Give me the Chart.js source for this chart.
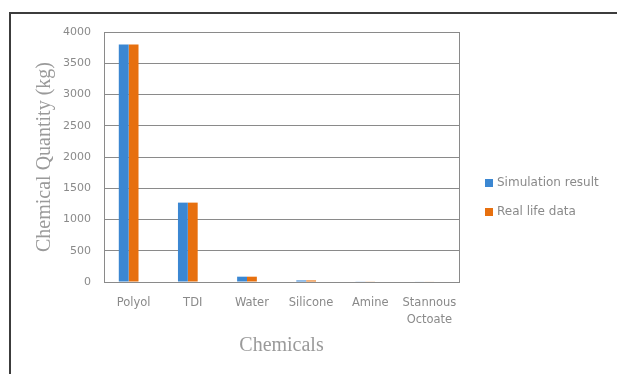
<!DOCTYPE html>
<html>
<head>
<meta charset="utf-8">
<script src="https://cdn.jsdelivr.net/npm/chart.js@4/dist/chart.umd.min.js"></script>
<style>
  html, body { margin: 0; padding: 0; background: #fff; }
  #wrap { position: relative; width: 617px; height: 374px; overflow: hidden; }
  #frame { position: absolute; left: 9px; top: 12px; width: 700px; height: 400px;
           border-top: 2px solid #3c3c3c; border-left: 2px solid #3c3c3c; }
  canvas { position: absolute; left: 0; top: 0; }
</style>
</head>
<body>
<div id="wrap">
  <div id="frame"></div>
  <canvas id="c" width="617" height="374"></canvas>
</div>
<script>
// Chemical quantities per ingredient (kg)
const categories = ['Polyol', 'TDI', 'Water', 'Silicone', 'Amine', ['Stannous', 'Octoate']];
const simulationResult = [3800, 1270, 85, 25, 6, 9];
const realLifeData = [3800, 1270, 85, 25, 6, 9];
const yTicks = [0, 500, 1000, 1500, 2000, 2500, 3000, 3500, 4000];

const seriesNames = ['Simulation result', 'Real life data'];
const seriesColors = ['#3b87d2', '#e7700f'];

const tickColor = '#8a8a8a';
const titleColor = '#9a9a9a';

// Frame around the plot area
const plotFrame = {
  id: 'plotFrame',
  afterDatasetsDraw(chart) {
    const a = chart.chartArea, ctx = chart.ctx;
    ctx.save();
    ctx.strokeStyle = '#8a8a8a';
    ctx.lineWidth = 1;
    ctx.strokeRect(Math.round(a.left) + 0.5, Math.round(a.top) + 0.5,
                   Math.round(a.right - a.left), Math.round(a.bottom - a.top));
    ctx.restore();
  }
};

// Legend drawn at the right of the plot
const sideLegend = {
  id: 'sideLegend',
  afterDraw(chart) {
    const ctx = chart.ctx;
    ctx.save();
    ctx.font = '12px "DejaVu Sans"';
    ctx.textBaseline = 'middle';
    const x = 485, y0 = 183, step = 29;
    seriesNames.forEach((name, i) => {
      const y = y0 + i * step;
      ctx.fillStyle = seriesColors[i];
      ctx.fillRect(x, y - 4, 8, 8);
      ctx.fillStyle = tickColor;
      ctx.fillText(name, x + 12, y);
    });
    ctx.restore();
  }
};

new Chart(document.getElementById('c'), {
  type: 'bar',
  data: {
    labels: categories,
    datasets: [
      { label: seriesNames[0], data: simulationResult, backgroundColor: seriesColors[0] },
      { label: seriesNames[1], data: realLifeData, backgroundColor: seriesColors[1] },
      // empty third series slot that keeps the group spacing
      { label: '', data: categories.map(() => null), backgroundColor: 'rgba(0,0,0,0)' }
    ]
  },
  options: {
    responsive: false,
    animation: false,
    events: [],
    datasets: { bar: { categoryPercentage: 0.5, barPercentage: 1.0 } },
    layout: { padding: { left: 20, right: 158, top: 32, bottom: 12 } },
    plugins: { legend: { display: false }, tooltip: { enabled: false } },
    scales: {
      x: {
        grid: { display: false, drawTicks: false },
        border: { display: true, color: '#8a8a8a' },
        ticks: {
          color: tickColor, font: { family: '"DejaVu Sans"', size: 11.5, lineHeight: 1.5 },
          maxRotation: 0, autoSkip: false, padding: 12
        },
        title: {
          display: true, text: 'Chemicals', color: titleColor,
          font: { family: '"Liberation Serif"', size: 20 }, padding: { top: 0, bottom: 4 }
        },
        afterFit(s) { s.height = 80; }
      },
      y: {
        min: 0, max: 4000,
        grid: { color: '#8a8a8a', drawTicks: false },
        border: { display: true, color: '#8a8a8a' },
        afterBuildTicks(s) { s.ticks = yTicks.map(v => ({ value: v })); },
        ticks: {
          color: tickColor, font: { family: '"DejaVu Sans"', size: 11 }, padding: 13,
          callback: v => String(v)
        },
        title: {
          display: true, text: 'Chemical Quantity (kg)', color: titleColor,
          font: { family: '"Liberation Serif"', size: 20 }, padding: { top: 13, bottom: 0 }
        },
        afterFit(s) { s.width = 84; }
      }
    }
  },
  plugins: [plotFrame, sideLegend]
});
</script>
</body>
</html>
